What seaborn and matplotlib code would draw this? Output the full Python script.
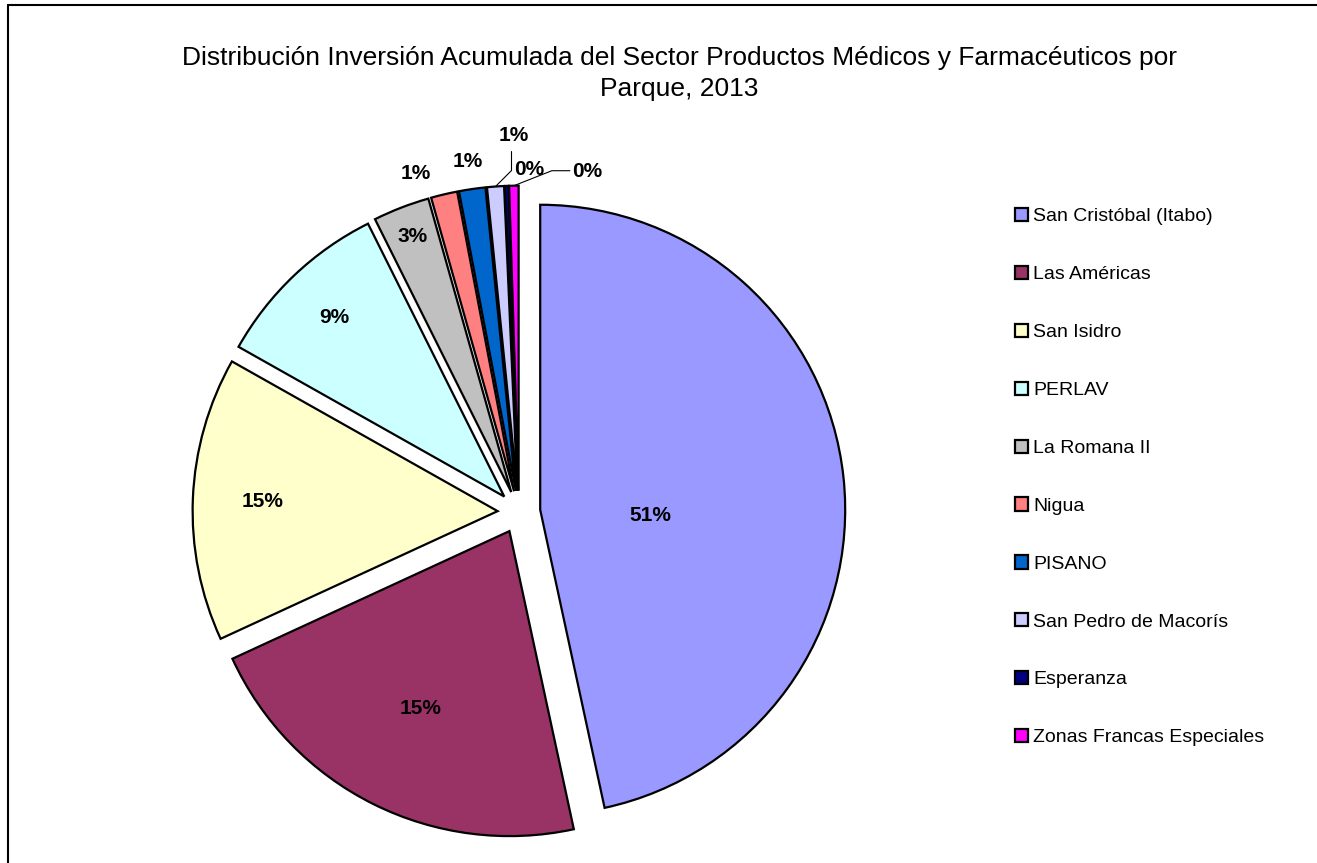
import matplotlib
matplotlib.use("Agg")
import matplotlib.pyplot as plt
from matplotlib.lines import Line2D
import seaborn as sns
import numpy as np

# Parks and their share of accumulated investment
parks = ["San Cristóbal (Itabo)", "Las Américas", "San Isidro", "PERLAV", "La Romana II",
         "Nigua", "PISANO", "San Pedro de Macorís", "Esperanza", "Zonas Francas Especiales"]
shares = [46.8, 21.6, 15.1, 9.5, 3.0, 1.4, 1.4, 0.9, 0.2, 0.5]
# percentages as printed on the original chart
pct_labels = ["51%", "15%", "15%", "9%", "3%", "1%", "1%", "1%", "0%", "0%"]
colors = ["#9999FF", "#993366", "#FFFFCC", "#CCFFFF", "#C0C0C0",
          "#FF8080", "#0066CC", "#CCCCFF", "#000080", "#FF00FF"]

sns.set_theme(style="white")
plt.rcParams["font.family"] = ["Liberation Sans", "DejaVu Sans"]
plt.rcParams["text.color"] = "black"

W, H = 1317, 863
R = 305.0  # pie radius in pixels
fig = plt.figure(figsize=(W / 100, H / 100), dpi=100)
ax = fig.add_axes([0.1393, 0.0109, 0.5095, 0.8623])

wedges, _ = ax.pie(shares, colors=colors, explode=[0.07] * len(shares),
                   startangle=90, counterclock=False,
                   wedgeprops=dict(edgecolor="black", linewidth=1.6))
ax.set_xlim(-1.1, 1.1)
ax.set_ylim(-1.12, 1.32)
ax.set_aspect("auto")
ax.axis("off")

# labels inside / just outside the bigger slices
label_r = [0.36, 0.65, 0.77, 0.81, 0.90, 1.09, 1.09]
label_shift = [-9, 0, 0, 0, 0, 4, 0]  # small angular nudges, degrees
for w, txt, r, s in zip(wedges, pct_labels, label_r, label_shift):
    mid = np.deg2rad((w.theta1 + w.theta2) / 2 + s)
    cx, cy = w.center
    ax.text(cx + r * np.cos(mid), cy + r * np.sin(mid), txt, ha="center", va="center",
            fontsize=15, fontweight="bold")

def edge_point(w):
    mid = np.deg2rad((w.theta1 + w.theta2) / 2)
    cx, cy = w.center
    return cx + np.cos(mid), cy + np.sin(mid)

p = 1 / R  # one pixel in data units

# San Pedro de Macorís: elbow leader going up
ex, ey = edge_point(wedges[7])
ax.plot([ex, ex + 16 * p, ex + 16 * p], [ey, ey + 16 * p, ey + 35 * p], color="black", lw=0.8)
ax.text(ex + 18 * p, ey + 51 * p, pct_labels[7], ha="center", va="center",
        fontsize=15, fontweight="bold")

# Esperanza: label right above
ex, ey = edge_point(wedges[8])
ax.text(ex + 22 * p, ey + 16 * p, pct_labels[8], ha="center", va="center",
        fontsize=15, fontweight="bold")

# Zonas Francas Especiales: leader to the right
ex, ey = edge_point(wedges[9])
ax.plot([ex, ex + 38 * p, ex + 56 * p], [ey, ey + 15 * p, ey + 15 * p], color="black", lw=0.8)
ax.text(ex + 58 * p, ey + 14 * p, pct_labels[9], ha="left", va="center",
        fontsize=15, fontweight="bold")

fig.text(679 / W, 1 - 73.5 / H,
         "Distribución Inversión Acumulada del Sector Productos Médicos y Farmacéuticos por\nParque, 2013",
         ha="center", va="center", fontsize=19, linespacing=1.4)

ax.legend(wedges, parks, loc="upper left", bbox_to_anchor=(1015 / W, 1 - 208 / H),
          bbox_transform=fig.transFigure, frameon=False, fontsize=14,
          handlelength=0.67, handleheight=0.67, handletextpad=0.25,
          labelspacing=2.08, borderpad=0, borderaxespad=0)

# chart area border (only top and left visible in the crop)
fig.add_artist(Line2D([8 / W, 1], [1 - 5 / H, 1 - 5 / H], transform=fig.transFigure, color="black", lw=1.5))
fig.add_artist(Line2D([8 / W, 8 / W], [0, 1 - 5 / H], transform=fig.transFigure, color="black", lw=1.5))

fig.savefig("out.png", dpi=100, facecolor="white")
